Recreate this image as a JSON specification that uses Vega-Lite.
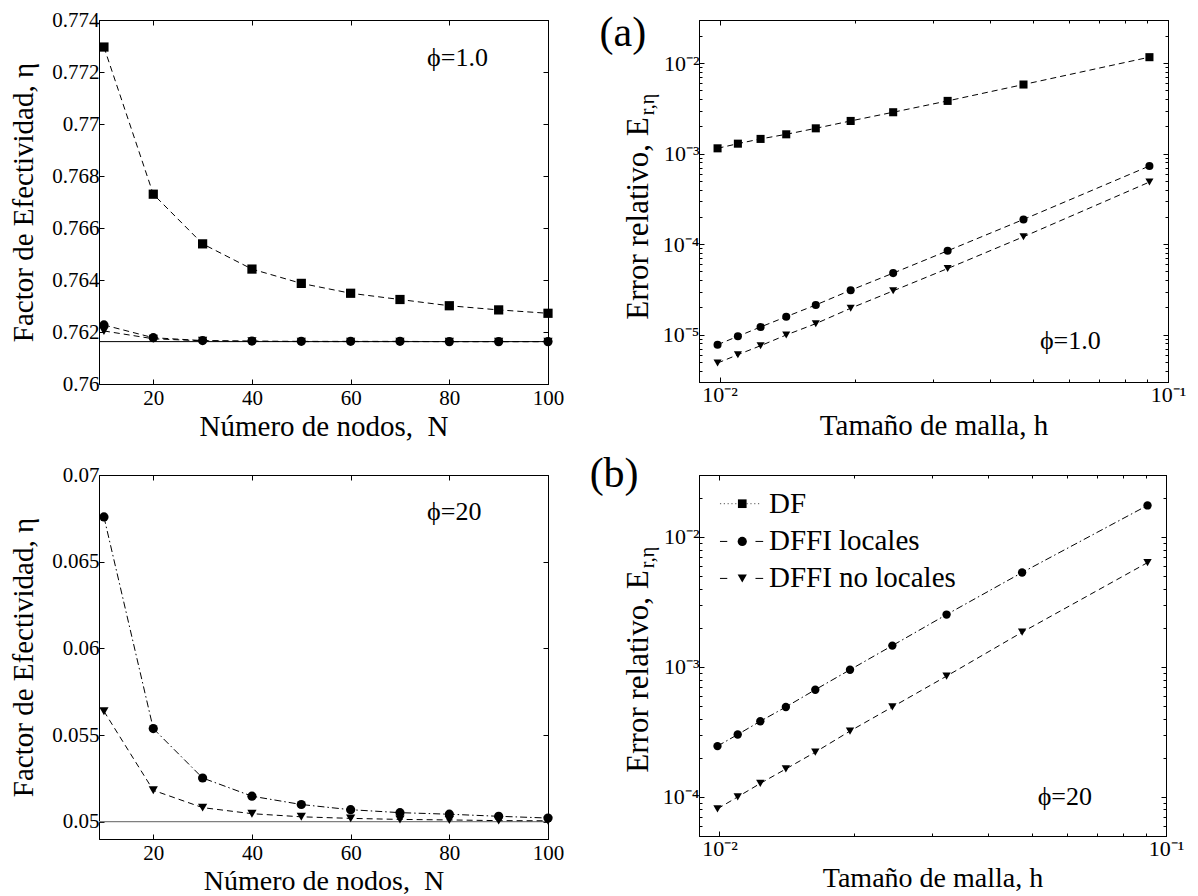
{
  "$schema": "https://vega.github.io/schema/vega-lite/v6.json",
  "background": "white",
  "padding": {"left": 8, "top": 8, "right": 0, "bottom": 0},
  "autosize": {"type": "pad"},
  "bounds": "flush",
  "columns": 2,
  "spacing": {"row": 91, "column": 151},
  "resolve": {"scale": {"shape": "independent", "strokeDash": "independent"}, "legend": {"shape": "independent", "strokeDash": "independent"}},
  "datasets": {
    "tl": [
      {"N": 10, "eta": 0.77296, "serie": "DF"}, {"N": 20, "eta": 0.7673, "serie": "DF"}, {"N": 30, "eta": 0.76539, "serie": "DF"}, {"N": 40, "eta": 0.76442, "serie": "DF"}, {"N": 50, "eta": 0.76387, "serie": "DF"}, {"N": 60, "eta": 0.76349, "serie": "DF"}, {"N": 70, "eta": 0.76325, "serie": "DF"}, {"N": 80, "eta": 0.76301, "serie": "DF"}, {"N": 90, "eta": 0.76285, "serie": "DF"}, {"N": 100, "eta": 0.76272, "serie": "DF"},
      {"N": 10, "eta": 0.76227, "serie": "DFFI locales"}, {"N": 20, "eta": 0.76178, "serie": "DFFI locales"}, {"N": 30, "eta": 0.76167, "serie": "DFFI locales"}, {"N": 40, "eta": 0.76165, "serie": "DFFI locales"}, {"N": 50, "eta": 0.76164, "serie": "DFFI locales"}, {"N": 60, "eta": 0.76164, "serie": "DFFI locales"}, {"N": 70, "eta": 0.76164, "serie": "DFFI locales"}, {"N": 80, "eta": 0.76163, "serie": "DFFI locales"}, {"N": 90, "eta": 0.76163, "serie": "DFFI locales"}, {"N": 100, "eta": 0.76163, "serie": "DFFI locales"},
      {"N": 10, "eta": 0.76204, "serie": "DFFI no locales"}, {"N": 20, "eta": 0.76174, "serie": "DFFI no locales"}, {"N": 30, "eta": 0.76166, "serie": "DFFI no locales"}, {"N": 40, "eta": 0.76164, "serie": "DFFI no locales"}, {"N": 50, "eta": 0.76163, "serie": "DFFI no locales"}, {"N": 60, "eta": 0.76163, "serie": "DFFI no locales"}, {"N": 70, "eta": 0.76163, "serie": "DFFI no locales"}, {"N": 80, "eta": 0.76163, "serie": "DFFI no locales"}, {"N": 90, "eta": 0.76163, "serie": "DFFI no locales"}, {"N": 100, "eta": 0.76163, "serie": "DFFI no locales"}
    ],
    "bl": [
      {"N": 10, "eta": 0.06758, "serie": "DFFI locales"}, {"N": 20, "eta": 0.05537, "serie": "DFFI locales"}, {"N": 30, "eta": 0.05252, "serie": "DFFI locales"}, {"N": 40, "eta": 0.05147, "serie": "DFFI locales"}, {"N": 50, "eta": 0.05099, "serie": "DFFI locales"}, {"N": 60, "eta": 0.05069, "serie": "DFFI locales"}, {"N": 70, "eta": 0.05052, "serie": "DFFI locales"}, {"N": 80, "eta": 0.05043, "serie": "DFFI locales"}, {"N": 90, "eta": 0.05031, "serie": "DFFI locales"}, {"N": 100, "eta": 0.05021, "serie": "DFFI locales"},
      {"N": 10, "eta": 0.05637, "serie": "DFFI no locales"}, {"N": 20, "eta": 0.05181, "serie": "DFFI no locales"}, {"N": 30, "eta": 0.05081, "serie": "DFFI no locales"}, {"N": 40, "eta": 0.05046, "serie": "DFFI no locales"}, {"N": 50, "eta": 0.05028, "serie": "DFFI no locales"}, {"N": 60, "eta": 0.05019, "serie": "DFFI no locales"}, {"N": 70, "eta": 0.05013, "serie": "DFFI no locales"}, {"N": 80, "eta": 0.0501, "serie": "DFFI no locales"}, {"N": 90, "eta": 0.05006, "serie": "DFFI no locales"}, {"N": 100, "eta": 0.05005, "serie": "DFFI no locales"}
    ],
    "tr": [
      {"h": 0.0099, "err": 0.001146, "serie": "DF"}, {"h": 0.010989, "err": 0.00129, "serie": "DF"}, {"h": 0.012346, "err": 0.001456, "serie": "DF"}, {"h": 0.014085, "err": 0.001637, "serie": "DF"}, {"h": 0.016393, "err": 0.001906, "serie": "DF"}, {"h": 0.019608, "err": 0.0023, "serie": "DF"}, {"h": 0.02439, "err": 0.00287, "serie": "DF"}, {"h": 0.032258, "err": 0.00383, "serie": "DF"}, {"h": 0.047619, "err": 0.00581, "serie": "DF"}, {"h": 0.090909, "err": 0.01165, "serie": "DF"},
      {"h": 0.0099, "err": 7.75e-6, "serie": "DFFI locales"}, {"h": 0.010989, "err": 9.6e-6, "serie": "DFFI locales"}, {"h": 0.012346, "err": 1.216e-5, "serie": "DFFI locales"}, {"h": 0.014085, "err": 1.58e-5, "serie": "DFFI locales"}, {"h": 0.016393, "err": 2.13e-5, "serie": "DFFI locales"}, {"h": 0.019608, "err": 3.1e-5, "serie": "DFFI locales"}, {"h": 0.02439, "err": 4.79e-5, "serie": "DFFI locales"}, {"h": 0.032258, "err": 8.45e-5, "serie": "DFFI locales"}, {"h": 0.047619, "err": 1.876e-4, "serie": "DFFI locales"}, {"h": 0.090909, "err": 7.31e-4, "serie": "DFFI locales"},
      {"h": 0.0099, "err": 4.86e-6, "serie": "DFFI no locales"}, {"h": 0.010989, "err": 6.01e-6, "serie": "DFFI no locales"}, {"h": 0.012346, "err": 7.55e-6, "serie": "DFFI no locales"}, {"h": 0.014085, "err": 9.93e-6, "serie": "DFFI no locales"}, {"h": 0.016393, "err": 1.324e-5, "serie": "DFFI no locales"}, {"h": 0.019608, "err": 1.96e-5, "serie": "DFFI no locales"}, {"h": 0.02439, "err": 3.05e-5, "serie": "DFFI no locales"}, {"h": 0.032258, "err": 5.38e-5, "serie": "DFFI no locales"}, {"h": 0.047619, "err": 1.208e-4, "serie": "DFFI no locales"}, {"h": 0.090909, "err": 4.86e-4, "serie": "DFFI no locales"}
    ],
    "br": [
      {"h": 0.0099, "err": 2.46e-4, "serie": "DFFI locales"}, {"h": 0.010989, "err": 3.02e-4, "serie": "DFFI locales"}, {"h": 0.012346, "err": 3.82e-4, "serie": "DFFI locales"}, {"h": 0.014085, "err": 4.92e-4, "serie": "DFFI locales"}, {"h": 0.016393, "err": 6.68e-4, "serie": "DFFI locales"}, {"h": 0.019608, "err": 9.51e-4, "serie": "DFFI locales"}, {"h": 0.02439, "err": 0.00146, "serie": "DFFI locales"}, {"h": 0.032258, "err": 0.00253, "serie": "DFFI locales"}, {"h": 0.047619, "err": 0.00533, "serie": "DFFI locales"}, {"h": 0.090909, "err": 0.0175, "serie": "DFFI locales"},
      {"h": 0.0099, "err": 8.09e-5, "serie": "DFFI no locales"}, {"h": 0.010989, "err": 1.0e-4, "serie": "DFFI no locales"}, {"h": 0.012346, "err": 1.27e-4, "serie": "DFFI no locales"}, {"h": 0.014085, "err": 1.64e-4, "serie": "DFFI no locales"}, {"h": 0.016393, "err": 2.21e-4, "serie": "DFFI no locales"}, {"h": 0.019608, "err": 3.21e-4, "serie": "DFFI no locales"}, {"h": 0.02439, "err": 4.92e-4, "serie": "DFFI no locales"}, {"h": 0.032258, "err": 8.5e-4, "serie": "DFFI no locales"}, {"h": 0.047619, "err": 0.00185, "serie": "DFFI no locales"}, {"h": 0.090909, "err": 0.00635, "serie": "DFFI no locales"}
    ]
  },
  "concat": [
    {
      "width": 449, "height": 364,
      "data": {"name": "tl"},
      "resolve": {"axis": {"x": "independent", "y": "independent"}},
      "layer": [
        {
          "data": {"values": [{}]},
          "mark": {"type": "rule", "color": "black", "strokeWidth": 1},
          "encoding": {"y": {"datum": 0.76163, "type": "quantitative", "scale": {"domain": [0.76, 0.774], "nice": false, "zero": false}, "axis": null}}
        },
        {
          "mark": {"type": "line", "color": "black", "strokeWidth": 1},
          "encoding": {
            "x": {"field": "N", "type": "quantitative", "scale": {"domain": [9, 100], "nice": false, "zero": false},
                  "axis": {"orient": "bottom", "values": [20, 40, 60, 80, 100], "tickSize": -5, "labelPadding": 8, "title": "Número de nodos,\u00a0 N", "titleY": 51, "titleBaseline": "alphabetic"}},
            "y": {"field": "eta", "type": "quantitative", "scale": {"domain": [0.76, 0.774], "nice": false, "zero": false},
                  "axis": {"orient": "left", "values": [0.76, 0.762, 0.764, 0.766, 0.768, 0.77, 0.772, 0.774], "format": "~g", "tickSize": -5, "labelPadding": 5, "title": "Factor de Efectividad, η", "titleAngle": 270, "titleX": -67, "titleY": 182, "titleAlign": "center", "titleBaseline": "alphabetic"}},
            "strokeDash": {"field": "serie", "type": "nominal", "scale": {"domain": ["DF", "DFFI locales", "DFFI no locales"], "range": [[6, 4], [6, 4], [6, 4]]}, "legend": null}
          }
        },
        {
          "mark": {"type": "point", "filled": true, "color": "black", "opacity": 1, "size": 85},
          "encoding": {
            "x": {"field": "N", "type": "quantitative", "scale": {"domain": [9, 100], "nice": false, "zero": false},
                  "axis": {"orient": "top", "values": [20, 40, 60, 80, 100], "tickSize": -5, "labels": false, "title": null}},
            "y": {"field": "eta", "type": "quantitative", "scale": {"domain": [0.76, 0.774], "nice": false, "zero": false},
                  "axis": {"orient": "right", "values": [0.76, 0.762, 0.764, 0.766, 0.768, 0.77, 0.772, 0.774], "tickSize": -5, "labels": false, "title": null}},
            "shape": {"field": "serie", "type": "nominal", "scale": {"domain": ["DF", "DFFI locales", "DFFI no locales"], "range": ["square", "circle", "triangle-down"]}, "legend": null}
          }
        },
        {
          "data": {"values": [{}]},
          "mark": {"type": "text", "fontSize": 26, "align": "left", "baseline": "middle", "color": "black"},
          "encoding": {
            "x": {"datum": 75.5, "type": "quantitative", "scale": {"domain": [9, 100], "nice": false, "zero": false}, "axis": null},
            "y": {"datum": 0.77254, "type": "quantitative", "scale": {"domain": [0.76, 0.774], "nice": false, "zero": false}, "axis": null},
            "text": {"value": "ϕ=1.0"}
          }
        }
      ]
    },
    {
      "width": 469, "height": 362,
      "data": {"name": "tr"},
      "resolve": {"axis": {"x": "independent", "y": "independent"}},
      "layer": [
        {
          "mark": {"type": "line", "color": "black", "strokeWidth": 1},
          "encoding": {
            "x": {"field": "h", "type": "quantitative", "scale": {"type": "log", "domain": [0.009, 0.1], "nice": false},
                  "axis": {"orient": "bottom", "values": [0.01, 0.02, 0.03, 0.04, 0.05, 0.06, 0.07, 0.08, 0.09, 0.1],
                           "labelExpr": "abs(log(datum.value)/LN10 - round(log(datum.value)/LN10)) < 0.001 ? '10⁻' + ['⁰','¹','²','³','⁴','⁵','⁶','⁷'][round(-log(datum.value)/LN10)] : ''",
                           "tickSize": {"condition": {"test": "abs(log(datum.value)/LN10 - round(log(datum.value)/LN10)) < 0.001", "value": -5}, "value": -3},
                           "labelFontSize": 22, "labelPadding": 7, "title": "Tamaño de malla, h", "titleY": 52, "titleBaseline": "alphabetic"}},
            "y": {"field": "err", "type": "quantitative", "scale": {"type": "log", "domain": [3e-6, 0.03], "nice": false},
                  "axis": {"orient": "left", "values": [3e-6, 4e-6, 5e-6, 6e-6, 7e-6, 8e-6, 9e-6, 1e-5, 2e-5, 3e-5, 4e-5, 5e-5, 6e-5, 7e-5, 8e-5, 9e-5, 1e-4, 2e-4, 3e-4, 4e-4, 5e-4, 6e-4, 7e-4, 8e-4, 9e-4, 0.001, 0.002, 0.003, 0.004, 0.005, 0.006, 0.007, 0.008, 0.009, 0.01, 0.02, 0.03],
                           "labelExpr": "abs(log(datum.value)/LN10 - round(log(datum.value)/LN10)) < 0.001 ? '10⁻' + ['⁰','¹','²','³','⁴','⁵','⁶','⁷'][round(-log(datum.value)/LN10)] : ''",
                           "tickSize": {"condition": {"test": "abs(log(datum.value)/LN10 - round(log(datum.value)/LN10)) < 0.001", "value": -5}, "value": -3},
                           "labelFontSize": 22, "labelPadding": 5, "title": "Error relativo, E", "titleFontSize": 31, "titleAngle": 270, "titleX": -52, "titleY": 198, "titleAlign": "center", "titleBaseline": "alphabetic"}},
            "strokeDash": {"field": "serie", "type": "nominal", "scale": {"domain": ["DF", "DFFI locales", "DFFI no locales"], "range": [[6, 4], [6, 4], [6, 4]]}, "legend": null}
          }
        },
        {
          "mark": {"type": "point", "filled": true, "color": "black", "opacity": 1, "size": 65},
          "encoding": {
            "x": {"field": "h", "type": "quantitative", "scale": {"type": "log", "domain": [0.009, 0.1], "nice": false},
                  "axis": {"orient": "top", "values": [0.01, 0.02, 0.03, 0.04, 0.05, 0.06, 0.07, 0.08, 0.09, 0.1], "labels": false, "title": null,
                           "tickSize": {"condition": {"test": "abs(log(datum.value)/LN10 - round(log(datum.value)/LN10)) < 0.001", "value": -5}, "value": -3}}},
            "y": {"field": "err", "type": "quantitative", "scale": {"type": "log", "domain": [3e-6, 0.03], "nice": false},
                  "axis": {"orient": "right", "values": [3e-6, 4e-6, 5e-6, 6e-6, 7e-6, 8e-6, 9e-6, 1e-5, 2e-5, 3e-5, 4e-5, 5e-5, 6e-5, 7e-5, 8e-5, 9e-5, 1e-4, 2e-4, 3e-4, 4e-4, 5e-4, 6e-4, 7e-4, 8e-4, 9e-4, 0.001, 0.002, 0.003, 0.004, 0.005, 0.006, 0.007, 0.008, 0.009, 0.01, 0.02, 0.03],
                           "labels": false,
                           "tickSize": {"condition": {"test": "abs(log(datum.value)/LN10 - round(log(datum.value)/LN10)) < 0.001", "value": -5}, "value": -3},
                           "title": "r,η", "titleFontSize": 20, "titleAngle": 270, "titleX": -515, "titleY": 84, "titleAlign": "center", "titleBaseline": "alphabetic"}},
            "shape": {"field": "serie", "type": "nominal", "scale": {"domain": ["DF", "DFFI locales", "DFFI no locales"], "range": ["square", "circle", "triangle-down"]}, "legend": null}
          }
        },
        {
          "data": {"values": [{}]},
          "mark": {"type": "text", "fontSize": 26, "align": "left", "baseline": "middle", "color": "black"},
          "encoding": {
            "x": {"datum": 0.0518, "type": "quantitative", "scale": {"type": "log", "domain": [0.009, 0.1], "nice": false}, "axis": null},
            "y": {"datum": 8.5e-6, "type": "quantitative", "scale": {"type": "log", "domain": [3e-6, 0.03], "nice": false}, "axis": null},
            "text": {"value": "ϕ=1.0"}
          }
        },
        {
          "data": {"values": [{}]},
          "mark": {"type": "text", "fontSize": 42, "align": "center", "baseline": "middle", "color": "black"},
          "encoding": {
            "x": {"datum": 0.00609, "type": "quantitative", "scale": {"type": "log", "domain": [0.009, 0.1], "nice": false}, "axis": null},
            "y": {"datum": 0.0216, "type": "quantitative", "scale": {"type": "log", "domain": [3e-6, 0.03], "nice": false}, "axis": null},
            "text": {"value": "(a)"}
          }
        }
      ]
    },
    {
      "width": 449, "height": 364,
      "data": {"name": "bl"},
      "resolve": {"axis": {"x": "independent", "y": "independent"}},
      "layer": [
        {
          "data": {"values": [{}]},
          "mark": {"type": "rule", "color": "#7f7f7f", "strokeWidth": 1.2},
          "encoding": {"y": {"datum": 0.05, "type": "quantitative", "scale": {"domain": [0.049, 0.07], "nice": false, "zero": false}, "axis": null}}
        },
        {
          "mark": {"type": "line", "color": "black", "strokeWidth": 1},
          "encoding": {
            "x": {"field": "N", "type": "quantitative", "scale": {"domain": [9, 100], "nice": false, "zero": false},
                  "axis": {"orient": "bottom", "values": [20, 40, 60, 80, 100], "tickSize": -5, "labelPadding": 8, "title": "Número de nodos,\u00a0 N", "titleFontSize": 28, "titleY": 50, "titleBaseline": "alphabetic"}},
            "y": {"field": "eta", "type": "quantitative", "scale": {"domain": [0.049, 0.07], "nice": false, "zero": false},
                  "axis": {"orient": "left", "values": [0.05, 0.055, 0.06, 0.065, 0.07], "format": "~g", "tickSize": -5, "labelPadding": 5, "title": "Factor de Efectividad, η", "titleAngle": 270, "titleX": -67, "titleY": 182, "titleAlign": "center", "titleBaseline": "alphabetic"}},
            "strokeDash": {"field": "serie", "type": "nominal", "scale": {"domain": ["DF", "DFFI locales", "DFFI no locales"], "range": [[1, 3], [7, 3, 1.5, 3], [6, 4]]}, "legend": null}
          }
        },
        {
          "mark": {"type": "point", "filled": true, "color": "black", "opacity": 1, "size": 85},
          "encoding": {
            "x": {"field": "N", "type": "quantitative", "scale": {"domain": [9, 100], "nice": false, "zero": false},
                  "axis": {"orient": "top", "values": [20, 40, 60, 80, 100], "tickSize": -5, "labels": false, "title": null}},
            "y": {"field": "eta", "type": "quantitative", "scale": {"domain": [0.049, 0.07], "nice": false, "zero": false},
                  "axis": {"orient": "right", "values": [0.05, 0.055, 0.06, 0.065, 0.07], "tickSize": -5, "labels": false, "title": null}},
            "shape": {"field": "serie", "type": "nominal", "scale": {"domain": ["DF", "DFFI locales", "DFFI no locales"], "range": ["square", "circle", "triangle-down"]}, "legend": null}
          }
        },
        {
          "data": {"values": [{}]},
          "mark": {"type": "text", "fontSize": 26, "align": "left", "baseline": "middle", "color": "black"},
          "encoding": {
            "x": {"datum": 75.5, "type": "quantitative", "scale": {"domain": [9, 100], "nice": false, "zero": false}, "axis": null},
            "y": {"datum": 0.06787, "type": "quantitative", "scale": {"domain": [0.049, 0.07], "nice": false, "zero": false}, "axis": null},
            "text": {"value": "ϕ=20"}
          }
        }
      ]
    },
    {
      "width": 467, "height": 361,
      "data": {"name": "br"},
      "resolve": {"axis": {"x": "independent", "y": "independent"}},
      "layer": [
        {
          "mark": {"type": "line", "color": "black", "strokeWidth": 1},
          "encoding": {
            "x": {"field": "h", "type": "quantitative", "scale": {"type": "log", "domain": [0.009, 0.1], "nice": false},
                  "axis": {"orient": "bottom", "values": [0.01, 0.02, 0.03, 0.04, 0.05, 0.06, 0.07, 0.08, 0.09, 0.1],
                           "labelExpr": "abs(log(datum.value)/LN10 - round(log(datum.value)/LN10)) < 0.001 ? '10⁻' + ['⁰','¹','²','³','⁴','⁵','⁶','⁷'][round(-log(datum.value)/LN10)] : ''",
                           "tickSize": {"condition": {"test": "abs(log(datum.value)/LN10 - round(log(datum.value)/LN10)) < 0.001", "value": -5}, "value": -3},
                           "labelFontSize": 22, "labelPadding": 7, "title": "Tamaño de malla, h", "titleFontSize": 28, "titleY": 50, "titleBaseline": "alphabetic"}},
            "y": {"field": "err", "type": "quantitative", "scale": {"type": "log", "domain": [5e-5, 0.03], "nice": false},
                  "axis": {"orient": "left", "values": [5e-5, 6e-5, 7e-5, 8e-5, 9e-5, 1e-4, 2e-4, 3e-4, 4e-4, 5e-4, 6e-4, 7e-4, 8e-4, 9e-4, 0.001, 0.002, 0.003, 0.004, 0.005, 0.006, 0.007, 0.008, 0.009, 0.01, 0.02, 0.03],
                           "labelExpr": "abs(log(datum.value)/LN10 - round(log(datum.value)/LN10)) < 0.001 ? '10⁻' + ['⁰','¹','²','³','⁴','⁵','⁶','⁷'][round(-log(datum.value)/LN10)] : ''",
                           "tickSize": {"condition": {"test": "abs(log(datum.value)/LN10 - round(log(datum.value)/LN10)) < 0.001", "value": -5}, "value": -3},
                           "labelFontSize": 22, "labelPadding": 5, "title": "Error relativo, E", "titleFontSize": 31, "titleAngle": 270, "titleX": -52, "titleY": 196, "titleAlign": "center", "titleBaseline": "alphabetic"}},
            "strokeDash": {"field": "serie", "type": "nominal", "scale": {"domain": ["DF", "DFFI locales", "DFFI no locales"], "range": [[1, 3], [7, 3, 1.5, 3], [6, 4]]}, "legend": null}
          }
        },
        {
          "mark": {"type": "point", "filled": true, "color": "black", "opacity": 1, "size": 70},
          "encoding": {
            "x": {"field": "h", "type": "quantitative", "scale": {"type": "log", "domain": [0.009, 0.1], "nice": false},
                  "axis": {"orient": "top", "values": [0.01, 0.02, 0.03, 0.04, 0.05, 0.06, 0.07, 0.08, 0.09, 0.1], "labels": false, "title": null,
                           "tickSize": {"condition": {"test": "abs(log(datum.value)/LN10 - round(log(datum.value)/LN10)) < 0.001", "value": -5}, "value": -3}}},
            "y": {"field": "err", "type": "quantitative", "scale": {"type": "log", "domain": [5e-5, 0.03], "nice": false},
                  "axis": {"orient": "right", "values": [5e-5, 6e-5, 7e-5, 8e-5, 9e-5, 1e-4, 2e-4, 3e-4, 4e-4, 5e-4, 6e-4, 7e-4, 8e-4, 9e-4, 0.001, 0.002, 0.003, 0.004, 0.005, 0.006, 0.007, 0.008, 0.009, 0.01, 0.02, 0.03],
                           "labels": false,
                           "tickSize": {"condition": {"test": "abs(log(datum.value)/LN10 - round(log(datum.value)/LN10)) < 0.001", "value": -5}, "value": -3},
                           "title": "r,η", "titleFontSize": 20, "titleAngle": 270, "titleX": -513, "titleY": 82, "titleAlign": "center", "titleBaseline": "alphabetic"}},
            "shape": {"field": "serie", "type": "nominal", "scale": {"domain": ["DF", "DFFI locales", "DFFI no locales"], "range": ["square", "circle", "triangle-down"]}, "legend": null}
          }
        },
        {
          "data": {"values": [{}]},
          "mark": {"type": "rule", "color": "#555555", "strokeWidth": 1, "strokeDash": [1.2, 2.6]},
          "encoding": {
            "x": {"datum": 0.010028, "type": "quantitative", "scale": {"type": "log", "domain": [0.009, 0.1], "nice": false}, "axis": null},
            "x2": {"datum": 0.012409},
            "y": {"datum": 0.01804, "type": "quantitative", "scale": {"type": "log", "domain": [5e-5, 0.03], "nice": false}, "axis": null}
          }
        },
        {
          "data": {"values": [{}]},
          "mark": {"type": "point", "shape": "square", "filled": true, "color": "black", "opacity": 1, "size": 75},
          "encoding": {
            "x": {"datum": 0.011249, "type": "quantitative", "scale": {"type": "log", "domain": [0.009, 0.1], "nice": false}, "axis": null},
            "y": {"datum": 0.01804, "type": "quantitative", "scale": {"type": "log", "domain": [5e-5, 0.03], "nice": false}, "axis": null}
          }
        },
        {
          "data": {"values": [{}]},
          "mark": {"type": "text", "fontSize": 29, "align": "left", "baseline": "middle", "color": "black"},
          "encoding": {
            "x": {"datum": 0.012909, "type": "quantitative", "scale": {"type": "log", "domain": [0.009, 0.1], "nice": false}, "axis": null},
            "y": {"datum": 0.01804, "type": "quantitative", "scale": {"type": "log", "domain": [5e-5, 0.03], "nice": false}, "axis": null},
            "text": {"value": "DF"}
          }
        },
        {
          "data": {"values": [{}]},
          "mark": {"type": "rule", "color": "black", "strokeWidth": 1, "strokeDash": [7.3, 28.2, 7.7, 10]},
          "encoding": {
            "x": {"datum": 0.010028, "type": "quantitative", "scale": {"type": "log", "domain": [0.009, 0.1], "nice": false}, "axis": null},
            "x2": {"datum": 0.012538},
            "y": {"datum": 0.009245, "type": "quantitative", "scale": {"type": "log", "domain": [5e-5, 0.03], "nice": false}, "axis": null}
          }
        },
        {
          "data": {"values": [{}]},
          "mark": {"type": "point", "shape": "circle", "filled": true, "color": "black", "opacity": 1, "size": 85},
          "encoding": {
            "x": {"datum": 0.011249, "type": "quantitative", "scale": {"type": "log", "domain": [0.009, 0.1], "nice": false}, "axis": null},
            "y": {"datum": 0.009245, "type": "quantitative", "scale": {"type": "log", "domain": [5e-5, 0.03], "nice": false}, "axis": null}
          }
        },
        {
          "data": {"values": [{}]},
          "mark": {"type": "text", "fontSize": 29, "align": "left", "baseline": "middle", "color": "black"},
          "encoding": {
            "x": {"datum": 0.012909, "type": "quantitative", "scale": {"type": "log", "domain": [0.009, 0.1], "nice": false}, "axis": null},
            "y": {"datum": 0.009245, "type": "quantitative", "scale": {"type": "log", "domain": [5e-5, 0.03], "nice": false}, "axis": null},
            "text": {"value": "DFFI locales"}
          }
        },
        {
          "data": {"values": [{}]},
          "mark": {"type": "rule", "color": "black", "strokeWidth": 1, "strokeDash": [7.3, 28.2, 7.7, 10]},
          "encoding": {
            "x": {"datum": 0.010028, "type": "quantitative", "scale": {"type": "log", "domain": [0.009, 0.1], "nice": false}, "axis": null},
            "x2": {"datum": 0.012538},
            "y": {"datum": 0.0048, "type": "quantitative", "scale": {"type": "log", "domain": [5e-5, 0.03], "nice": false}, "axis": null}
          }
        },
        {
          "data": {"values": [{}]},
          "mark": {"type": "point", "shape": "triangle-down", "filled": true, "color": "black", "opacity": 1, "size": 85},
          "encoding": {
            "x": {"datum": 0.011249, "type": "quantitative", "scale": {"type": "log", "domain": [0.009, 0.1], "nice": false}, "axis": null},
            "y": {"datum": 0.0048, "type": "quantitative", "scale": {"type": "log", "domain": [5e-5, 0.03], "nice": false}, "axis": null}
          }
        },
        {
          "data": {"values": [{}]},
          "mark": {"type": "text", "fontSize": 29, "align": "left", "baseline": "middle", "color": "black"},
          "encoding": {
            "x": {"datum": 0.012909, "type": "quantitative", "scale": {"type": "log", "domain": [0.009, 0.1], "nice": false}, "axis": null},
            "y": {"datum": 0.0048, "type": "quantitative", "scale": {"type": "log", "domain": [5e-5, 0.03], "nice": false}, "axis": null},
            "text": {"value": "DFFI no locales"}
          }
        },
        {
          "data": {"values": [{}]},
          "mark": {"type": "text", "fontSize": 26, "align": "left", "baseline": "middle", "color": "black"},
          "encoding": {
            "x": {"datum": 0.0516, "type": "quantitative", "scale": {"type": "log", "domain": [0.009, 0.1], "nice": false}, "axis": null},
            "y": {"datum": 1e-4, "type": "quantitative", "scale": {"type": "log", "domain": [5e-5, 0.03], "nice": false}, "axis": null},
            "text": {"value": "ϕ=20"}
          }
        },
        {
          "data": {"values": [{}]},
          "mark": {"type": "text", "fontSize": 42, "align": "center", "baseline": "middle", "color": "black"},
          "encoding": {
            "x": {"datum": 0.00581, "type": "quantitative", "scale": {"type": "log", "domain": [0.009, 0.1], "nice": false}, "axis": null},
            "y": {"datum": 0.0304, "type": "quantitative", "scale": {"type": "log", "domain": [5e-5, 0.03], "nice": false}, "axis": null},
            "text": {"value": "(b)"}
          }
        }
      ]
    }
  ],
  "config": {
    "font": "Liberation Serif",
    "view": {"stroke": "black", "strokeWidth": 1},
    "axis": {"domainColor": "black", "domainWidth": 1, "tickColor": "black", "tickWidth": 1, "labelColor": "black", "titleColor": "black", "labelFont": "Liberation Serif", "titleFont": "Liberation Serif", "labelFontSize": 21, "titleFontSize": 29, "titleFontWeight": "normal", "grid": false, "labelFlush": false, "labelOverlap": false},
    "text": {"font": "Liberation Serif"},
    "legend": {"labelFont": "Liberation Serif"}
  }
}
